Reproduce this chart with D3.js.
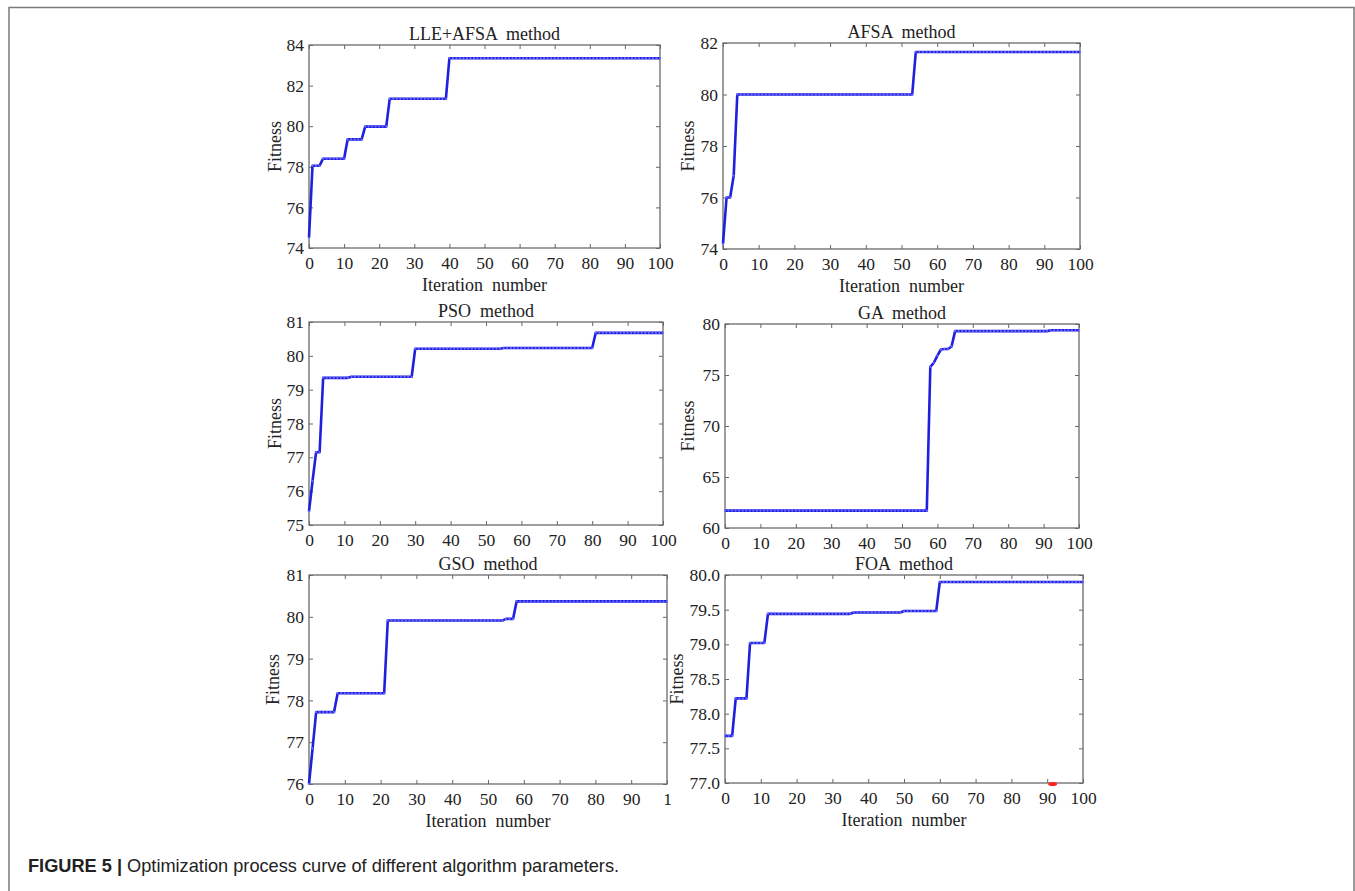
<!DOCTYPE html>
<meta charset="utf-8">
<title>Figure 5</title>
<body>
<script src="https://cdn.jsdelivr.net/npm/d3@7"></script>
<style>
html, body {
    margin: 0;
    background: #fff;
}
svg {
    display: block;
}
text {
    font-family: "Liberation Serif", "Times New Roman", serif;
    font-size: 18px;
    fill: #222;
}
.tick text {
    font-size: 17.5px;
}
text.caption {
    font-family: "Liberation Sans", Arial, sans-serif;
}
</style>
<script>
var width = 1355,
    height = 891;

// data
var iterations = d3.range(0, 101);
var xTicks = [0, 10, 20, 30, 40, 50, 60, 70, 80, 90, 100];
var xTickLabels = ["0", "10", "20", "30", "40", "50", "60", "70", "80", "90", "100"];
var gsoXTickLabels = ["0", "10", "20", "30", "40", "50", "60", "70", "80", "90", "1"];

var titles = ["LLE+AFSA  method", "AFSA  method", "PSO  method", "GA  method", "GSO  method", "FOA  method"];

var lleAfsaFitness = [
    74.5, 78.05, 78.05, 78.05, 78.4, 78.4, 78.4, 78.4, 78.4, 78.4,
    78.4, 79.35, 79.35, 79.35, 79.35, 79.35, 79.98, 79.98, 79.98, 79.98,
    79.98, 79.98, 79.98, 81.35, 81.35, 81.35, 81.35, 81.35, 81.35, 81.35,
    81.35, 81.35, 81.35, 81.35, 81.35, 81.35, 81.35, 81.35, 81.35, 81.35,
    83.35, 83.35, 83.35, 83.35, 83.35, 83.35, 83.35, 83.35, 83.35, 83.35,
    83.35, 83.35, 83.35, 83.35, 83.35, 83.35, 83.35, 83.35, 83.35, 83.35,
    83.35, 83.35, 83.35, 83.35, 83.35, 83.35, 83.35, 83.35, 83.35, 83.35,
    83.35, 83.35, 83.35, 83.35, 83.35, 83.35, 83.35, 83.35, 83.35, 83.35,
    83.35, 83.35, 83.35, 83.35, 83.35, 83.35, 83.35, 83.35, 83.35, 83.35,
    83.35, 83.35, 83.35, 83.35, 83.35, 83.35, 83.35, 83.35, 83.35, 83.35,
    83.35
];

var afsaFitness = [
    74.2, 76.0, 76.0, 76.85, 80.0, 80.0, 80.0, 80.0, 80.0, 80.0,
    80.0, 80.0, 80.0, 80.0, 80.0, 80.0, 80.0, 80.0, 80.0, 80.0,
    80.0, 80.0, 80.0, 80.0, 80.0, 80.0, 80.0, 80.0, 80.0, 80.0,
    80.0, 80.0, 80.0, 80.0, 80.0, 80.0, 80.0, 80.0, 80.0, 80.0,
    80.0, 80.0, 80.0, 80.0, 80.0, 80.0, 80.0, 80.0, 80.0, 80.0,
    80.0, 80.0, 80.0, 80.0, 81.65, 81.65, 81.65, 81.65, 81.65, 81.65,
    81.65, 81.65, 81.65, 81.65, 81.65, 81.65, 81.65, 81.65, 81.65, 81.65,
    81.65, 81.65, 81.65, 81.65, 81.65, 81.65, 81.65, 81.65, 81.65, 81.65,
    81.65, 81.65, 81.65, 81.65, 81.65, 81.65, 81.65, 81.65, 81.65, 81.65,
    81.65, 81.65, 81.65, 81.65, 81.65, 81.65, 81.65, 81.65, 81.65, 81.65,
    81.65
];

var psoFitness = [
    75.4, 76.3, 77.15, 77.15, 79.35, 79.35, 79.35, 79.35, 79.35, 79.35,
    79.35, 79.35, 79.38, 79.38, 79.38, 79.38, 79.38, 79.38, 79.38, 79.38,
    79.38, 79.38, 79.38, 79.38, 79.38, 79.38, 79.38, 79.38, 79.38, 79.38,
    80.21, 80.21, 80.21, 80.21, 80.21, 80.21, 80.21, 80.21, 80.21, 80.21,
    80.21, 80.21, 80.21, 80.21, 80.21, 80.21, 80.21, 80.21, 80.21, 80.21,
    80.21, 80.21, 80.21, 80.21, 80.21, 80.23, 80.23, 80.23, 80.23, 80.23,
    80.23, 80.23, 80.23, 80.23, 80.23, 80.23, 80.23, 80.23, 80.23, 80.23,
    80.23, 80.23, 80.23, 80.23, 80.23, 80.23, 80.23, 80.23, 80.23, 80.23,
    80.23, 80.68, 80.68, 80.68, 80.68, 80.68, 80.68, 80.68, 80.68, 80.68,
    80.68, 80.68, 80.68, 80.68, 80.68, 80.68, 80.68, 80.68, 80.68, 80.68,
    80.68
];

var gaFitness = [
    61.7, 61.7, 61.7, 61.7, 61.7, 61.7, 61.7, 61.7, 61.7, 61.7,
    61.7, 61.7, 61.7, 61.7, 61.7, 61.7, 61.7, 61.7, 61.7, 61.7,
    61.7, 61.7, 61.7, 61.7, 61.7, 61.7, 61.7, 61.7, 61.7, 61.7,
    61.7, 61.7, 61.7, 61.7, 61.7, 61.7, 61.7, 61.7, 61.7, 61.7,
    61.7, 61.7, 61.7, 61.7, 61.7, 61.7, 61.7, 61.7, 61.7, 61.7,
    61.7, 61.7, 61.7, 61.7, 61.7, 61.7, 61.7, 61.7, 75.8, 76.2,
    76.9, 77.5, 77.55, 77.55, 77.8, 79.3, 79.3, 79.3, 79.3, 79.3,
    79.3, 79.3, 79.3, 79.3, 79.3, 79.3, 79.3, 79.3, 79.3, 79.3,
    79.3, 79.3, 79.3, 79.3, 79.3, 79.3, 79.3, 79.3, 79.3, 79.3,
    79.3, 79.3, 79.38, 79.38, 79.38, 79.38, 79.38, 79.38, 79.38, 79.38,
    79.38
];

var gsoFitness = [
    76.0, 76.85, 77.72, 77.72, 77.72, 77.72, 77.72, 77.72, 78.17, 78.17,
    78.17, 78.17, 78.17, 78.17, 78.17, 78.17, 78.17, 78.17, 78.17, 78.17,
    78.17, 78.17, 79.91, 79.91, 79.91, 79.91, 79.91, 79.91, 79.91, 79.91,
    79.91, 79.91, 79.91, 79.91, 79.91, 79.91, 79.91, 79.91, 79.91, 79.91,
    79.91, 79.91, 79.91, 79.91, 79.91, 79.91, 79.91, 79.91, 79.91, 79.91,
    79.91, 79.91, 79.91, 79.91, 79.91, 79.95, 79.95, 79.95, 80.37, 80.37,
    80.37, 80.37, 80.37, 80.37, 80.37, 80.37, 80.37, 80.37, 80.37, 80.37,
    80.37, 80.37, 80.37, 80.37, 80.37, 80.37, 80.37, 80.37, 80.37, 80.37,
    80.37, 80.37, 80.37, 80.37, 80.37, 80.37, 80.37, 80.37, 80.37, 80.37,
    80.37, 80.37, 80.37, 80.37, 80.37, 80.37, 80.37, 80.37, 80.37, 80.37,
    80.37
];

var foaFitness = [
    77.68, 77.68, 77.68, 78.22, 78.22, 78.22, 78.22, 79.02, 79.02, 79.02,
    79.02, 79.02, 79.44, 79.44, 79.44, 79.44, 79.44, 79.44, 79.44, 79.44,
    79.44, 79.44, 79.44, 79.44, 79.44, 79.44, 79.44, 79.44, 79.44, 79.44,
    79.44, 79.44, 79.44, 79.44, 79.44, 79.44, 79.46, 79.46, 79.46, 79.46,
    79.46, 79.46, 79.46, 79.46, 79.46, 79.46, 79.46, 79.46, 79.46, 79.46,
    79.48, 79.48, 79.48, 79.48, 79.48, 79.48, 79.48, 79.48, 79.48, 79.48,
    79.9, 79.9, 79.9, 79.9, 79.9, 79.9, 79.9, 79.9, 79.9, 79.9,
    79.9, 79.9, 79.9, 79.9, 79.9, 79.9, 79.9, 79.9, 79.9, 79.9,
    79.9, 79.9, 79.9, 79.9, 79.9, 79.9, 79.9, 79.9, 79.9, 79.9,
    79.9, 79.9, 79.9, 79.9, 79.9, 79.9, 79.9, 79.9, 79.9, 79.9,
    79.9
];

var lleAfsaTicks = [74, 76, 78, 80, 82, 84];
var afsaTicks = [74, 76, 78, 80, 82];
var psoTicks = [75, 76, 77, 78, 79, 80, 81];
var gaTicks = [60, 65, 70, 75, 80];
var gsoTicks = [76, 77, 78, 79, 80, 81];
var foaTicks = [77.0, 77.5, 78.0, 78.5, 79.0, 79.5, 80.0];

// the small red stroke sitting on the FOA x axis
var foaRedMark = [91.5, 77.0];

var panels = [
    {title: titles[0], values: lleAfsaFitness, yTicks: lleAfsaTicks, fmt: "d", xLabels: xTickLabels, xTitle: true,
     box: {l: 309, r: 660, t: 45, b: 248}, yLab: 34},
    {title: titles[1], values: afsaFitness, yTicks: afsaTicks, fmt: "d", xLabels: xTickLabels, xTitle: true,
     box: {l: 723, r: 1080, t: 43, b: 249}, yLab: 35},
    {title: titles[2], values: psoFitness, yTicks: psoTicks, fmt: "d", xLabels: xTickLabels, xTitle: false,
     box: {l: 309, r: 663, t: 322, b: 525}, yLab: 34},
    {title: titles[3], values: gaFitness, yTicks: gaTicks, fmt: "d", xLabels: xTickLabels, xTitle: false,
     box: {l: 725, r: 1079, t: 324, b: 528}, yLab: 37},
    {title: titles[4], values: gsoFitness, yTicks: gsoTicks, fmt: "d", xLabels: gsoXTickLabels, xTitle: true,
     box: {l: 309, r: 667, t: 575, b: 784}, yLab: 36},
    {title: titles[5], values: foaFitness, yTicks: foaTicks, fmt: ".1f", xLabels: xTickLabels, xTitle: true,
     box: {l: 725, r: 1083, t: 575, b: 783}, yLab: 48}
];

var svg = d3.select("body").append("svg")
    .attr("width", width)
    .attr("height", height);

// page frame (open at the bottom)
svg.append("path")
    .attr("d", "M9," + height + "V7.5H1354V" + height)
    .attr("fill", "none")
    .attr("stroke", "#7a7a7a")
    .attr("stroke-width", 1.5);

function styleAxis(g) {
    g.attr("font-family", null).attr("font-size", null);
    g.select(".domain").remove();
    g.selectAll(".tick line").attr("stroke", "#666");
    g.selectAll("text").attr("fill", "#222");
}

panels.forEach(function(p) {
    var b = p.box;
    var x = d3.scaleLinear().domain([0, 100]).range([b.l, b.r]);
    var y = d3.scaleLinear().domain(d3.extent(p.yTicks)).range([b.b, b.t]);
    var g = svg.append("g");

    g.append("g")
        .attr("transform", "translate(0," + b.b + ")")
        .call(d3.axisBottom(x).tickValues(xTicks)
            .tickFormat(function(d, i) { return p.xLabels[i]; })
            .tickSizeInner(-4).tickSizeOuter(0).tickPadding(9))
        .call(styleAxis);

    g.append("g")
        .attr("transform", "translate(0," + b.t + ")")
        .call(d3.axisTop(x).tickValues(xTicks).tickFormat("")
            .tickSizeInner(-4).tickSizeOuter(0))
        .call(styleAxis);

    g.append("g")
        .attr("transform", "translate(" + b.l + ",0)")
        .call(d3.axisLeft(y).tickValues(p.yTicks).tickFormat(d3.format(p.fmt))
            .tickSizeInner(-4).tickSizeOuter(0).tickPadding(5))
        .call(styleAxis);

    g.append("g")
        .attr("transform", "translate(" + b.r + ",0)")
        .call(d3.axisRight(y).tickValues(p.yTicks).tickFormat("")
            .tickSizeInner(-4).tickSizeOuter(0))
        .call(styleAxis);

    g.append("rect")
        .attr("x", b.l)
        .attr("y", b.t)
        .attr("width", b.r - b.l)
        .attr("height", b.b - b.t)
        .attr("fill", "none")
        .attr("stroke", "#6a6a6a")
        .attr("stroke-width", 1.3);

    var line = d3.line()
        .x(function(d, i) { return x(iterations[i]); })
        .y(function(d) { return y(d); });

    g.append("path")
        .datum(p.values)
        .attr("d", line)
        .attr("fill", "none")
        .attr("stroke", "#1f1fe0")
        .attr("stroke-width", 2.6)
        .attr("stroke-linejoin", "round");

    g.selectAll("circle.pt")
        .data(p.values)
        .enter().append("circle")
        .attr("class", "pt")
        .attr("cx", function(d, i) { return x(iterations[i]); })
        .attr("cy", function(d) { return y(d); })
        .attr("r", 1.1)
        .attr("fill", "#6a6aff");

    g.append("text")
        .attr("x", (b.l + b.r) / 2)
        .attr("y", b.t - 5)
        .attr("text-anchor", "middle")
        .style("white-space", "pre")
        .text(p.title);

    g.append("text")
        .attr("transform", "translate(" + (b.l - p.yLab) + "," + ((b.t + b.b) / 2) + ")rotate(-90)")
        .attr("text-anchor", "middle")
        .attr("dominant-baseline", "central")
        .text("Fitness");

    if (p.xTitle) {
        g.append("text")
            .attr("x", (b.l + b.r) / 2)
            .attr("y", b.b + 43)
            .attr("text-anchor", "middle")
            .style("white-space", "pre")
            .text("Iteration  number");
    }

    if (p.values === foaFitness) {
        g.append("ellipse")
            .attr("cx", x(foaRedMark[0]))
            .attr("cy", y(foaRedMark[1]) + 1)
            .attr("rx", 4.5)
            .attr("ry", 2)
            .attr("fill", "#f22");
    }
});

var caption = svg.append("text")
    .attr("class", "caption")
    .attr("x", 28)
    .attr("y", 872)
    .style("font-size", "18.2px");

caption.append("tspan")
    .style("font-weight", "bold")
    .text("FIGURE 5 | ");

caption.append("tspan")
    .text("Optimization process curve of different algorithm parameters.");
</script>
